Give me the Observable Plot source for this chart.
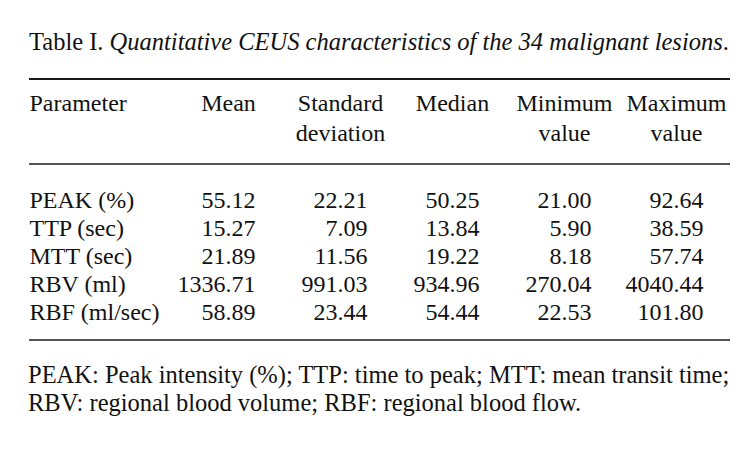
<!DOCTYPE html>
<html>
<head>
<meta charset="utf-8">
<script src="https://cdn.jsdelivr.net/npm/d3@7"></script>
<script src="https://cdn.jsdelivr.net/npm/@observablehq/plot@0.6"></script>
<style>
  body { margin: 0; background: #fff; font-family: "Liberation Serif", "Times New Roman", serif; color: #111; }
  #title { margin: 28px 0 0 29px; font-size: 24.5px; line-height: 28px; white-space: nowrap; }
  #note { margin: 17px 0 0 28px; font-size: 24.5px; line-height: 28px; white-space: nowrap; }
  #chart svg { display: block; }
</style>
</head>
<body>
<div id="title">Table I. <i>Quantitative CEUS characteristics of the 34 malignant lesions</i>.</div>
<div id="chart"></div>
<div id="note">PEAK: Peak intensity (%); TTP: time to peak; MTT: mean transit time;<br>RBV: regional blood volume; RBF: regional blood flow.</div>
<script>
// ---- data ----
const parameters = ["PEAK (%)", "TTP (sec)", "MTT (sec)", "RBV (ml)", "RBF (ml/sec)"];
const columns = ["Mean", "Standard deviation", "Median", "Minimum value", "Maximum value"];
const headerLabels = ["Mean", "Standard\ndeviation", "Median", "Minimum\nvalue", "Maximum\nvalue"];
const mean    = [55.12, 15.27, 21.89, 1336.71, 58.89];
const sd      = [22.21, 7.09, 11.56, 991.03, 23.44];
const median  = [50.25, 13.84, 19.22, 934.96, 54.44];
const minimum = [21.00, 5.90, 8.18, 270.04, 22.53];
const maximum = [92.64, 38.59, 57.74, 4040.44, 101.80];

const series = [mean, sd, median, minimum, maximum];
const cells = parameters.flatMap((p, i) => columns.map((c, j) => ({parameter: p, column: c, value: series[j][i]})));
const headers = [{column: null, label: "Parameter"}].concat(columns.map((c, j) => ({column: c, label: headerLabels[j]})));

// horizontal rules of the table, drawn from the plot's frame dimensions
const rules = (index, scales, values, dims) => {
  const g = d3.create("svg:g").attr("stroke", "#1a1a1a").attr("fill", "none");
  const x1 = dims.marginLeft, x2 = dims.width - dims.marginRight;
  const ys = [
    [dims.marginTop - 85, 1.8],
    [dims.marginTop, 1.6],
    [dims.height - dims.marginBottom, 1.6]
  ];
  for (const [y, w] of ys) {
    g.append("line").attr("x1", x1).attr("x2", x2).attr("y1", y).attr("y2", y).attr("stroke-width", w);
  }
  return g.node();
};

const font = {fontSize: 24, fill: "#111"};

const chart = Plot.plot({
  width: 756,
  height: 288,
  marginTop: 108,
  marginBottom: 4,
  marginLeft: 29,
  marginRight: 26,
  x: {type: "point", domain: columns, range: [254, 704], padding: 0, axis: null},
  y: {type: "band", domain: parameters, paddingInner: 0, paddingOuter: 0.55, align: 0.6, axis: null},
  style: {fontFamily: "'Liberation Serif', 'Times New Roman', serif", background: "#fff", color: "#111"},
  marks: [
    rules,
    Plot.text(headers.slice(0, 1), {text: "label", frameAnchor: "top-left", textAnchor: "start", lineAnchor: "top", lineHeight: 1.25, dy: -75, ...font}),
    Plot.text(headers.slice(1), {x: "column", text: "label", frameAnchor: "top", lineAnchor: "top", lineHeight: 1.25, dx: -27, dy: -75, textAnchor: "middle", ...font}),
    Plot.text(parameters, {y: d => d, text: d => d, frameAnchor: "left", textAnchor: "start", ...font}),
    Plot.text(cells, {x: "column", y: "parameter", text: d => d.value.toFixed(2), textAnchor: "end", ...font})
  ]
});
document.getElementById("chart").append(chart);
</script>
</body>
</html>
